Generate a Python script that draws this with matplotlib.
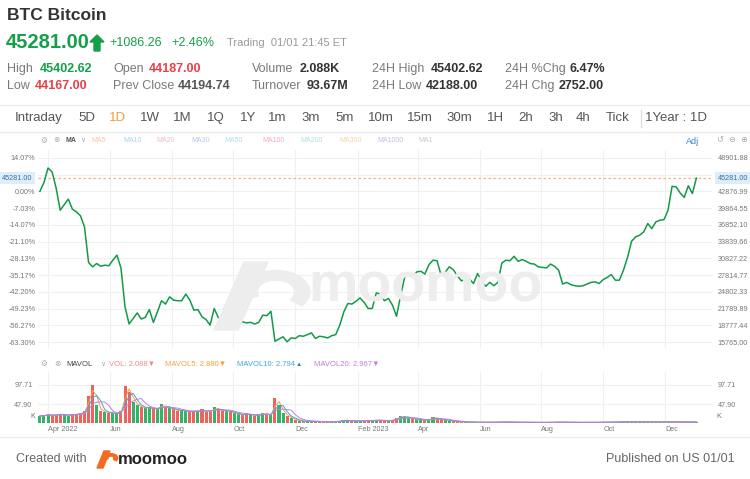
import pandas as pd
import matplotlib
matplotlib.use("Agg")
import matplotlib.pyplot as plt
import matplotlib.transforms as mtransforms
from matplotlib.patches import Polygon, Wedge

plt.rcParams['font.family'] = ['Liberation Sans', 'DejaVu Sans']

# ---- data (one value every 4 days) ----
close = [42900, 44500, 47100, 46400, 43500, 39500, 40500, 41500, 39700, 39200,
         38500, 36500, 30100, 29300, 29900, 29400, 29600, 29500, 30500, 31400,
         29100, 22100, 19000, 20000, 21000, 19900, 20200, 21600, 19300, 21200,
         23200, 22600, 23900, 23300, 23200, 23200, 24400, 23300, 21500, 21600,
         20300, 19800, 18800, 21800, 20200, 19400, 19400, 19200, 19400, 20300,
         19400, 19200, 19300, 19000, 19300, 20600, 20500, 21300, 15900, 16300,
         16700, 15800, 16500, 16400, 16900, 16800, 17100, 17400, 16400, 16800,
         16700, 16500, 16900, 17100, 18800, 21200, 22700, 22600, 23100, 23700,
         22900, 21800, 21800, 24600, 24400, 23200, 23600, 22400, 20400, 24100,
         27400, 28200, 27500, 28400, 28500, 28000, 29700, 30500, 30400, 27800,
         28300, 29300, 28800, 27700, 26800, 27000, 27100, 26300, 28100, 26800,
         25800, 26500, 25900, 26500, 30000, 30500, 30400, 31200, 30300, 30600,
         30300, 29900, 29800, 29300, 29200, 29100, 29800, 29400, 28700, 26200,
         26500, 26100, 25900, 25800, 25900, 26200, 26500, 26600, 26300, 27000,
         27400, 27900, 26900, 26900, 28700, 31000, 33900, 34700, 35000, 35600,
         37100, 36200, 37400, 37700, 37800, 39500, 43800, 43700, 42600, 41800,
         43900, 42500, 45281]

volume = [18, 20, 22, 19, 21, 24, 20, 19, 22, 23,
          25, 30, 70, 97, 45, 30, 28, 26, 25, 22,
          30, 95, 80, 55, 45, 40, 38, 40, 35, 36,
          48, 40, 38, 35, 30, 33, 30, 28, 32, 30,
          35, 28, 30, 40, 35, 30, 32, 28, 25, 22,
          20, 25, 20, 18, 22, 25, 22, 20, 65, 45,
          25, 18, 12, 8, 5, 4, 4, 5, 4, 3,
          3, 3, 3, 4, 6, 8, 6, 5, 5, 5,
          6, 7, 6, 8, 7, 5, 6, 8, 12, 18,
          16, 12, 10, 9, 8, 7, 9, 16, 10, 9,
          7, 6, 4, 3, 3, 2.5, 2, 2, 2, 2,
          2, 2, 2, 2, 3, 2.5, 2, 2, 2, 1.8,
          1.8, 1.6, 1.5, 1.5, 1.6, 1.8, 2.2, 1.8, 2.5, 2,
          1.8, 1.6, 1.6, 1.5, 1.6, 1.7, 1.8, 1.8, 2, 2,
          2.2, 2, 2.5, 3, 3.5, 3.2, 3, 2.8, 3, 2.6,
          2.8, 2.5, 2.8, 3, 3.2, 3, 2.8, 3, 2.6, 2.8,
          2.5, 2.6, 2.2]

dates = pd.date_range(end="2024-01-01", periods=len(close), freq="4D")
last_price = 45281.00

price_ticks = [15765.00, 18777.44, 21789.89, 24802.33, 27814.77, 30827.22,
               33839.66, 36852.10, 39864.55, 42876.99, 45889.43, 48901.88]
pct_labels = ["-63.30%", "-56.27%", "-49.23%", "-42.20%", "-35.17%", "-28.13%",
              "-21.10%", "-14.07%", "-7.03%", "0.00%", "", "14.07%"]
price_labels = ["15765.00", "18777.44", "21789.89", "24802.33", "27814.77", "30827.22",
                "33839.66", "36852.10", "39864.55", "42876.99", "", "48901.88"]
vol_ticks = [47.90, 97.71]
month_ticks = pd.to_datetime(["2022-04-01", "2022-06-01", "2022-08-01", "2022-10-01",
                              "2022-12-01", "2023-02-01", "2023-04-01", "2023-06-01",
                              "2023-08-01", "2023-10-01", "2023-12-01"])
month_labels = ["Apr 2022", "Jun", "Aug", "Oct", "Dec", "Feb 2023",
                "Apr", "Jun", "Aug", "Oct", "Dec"]

tabs = ["Intraday", "5D", "1D", "1W", "1M", "1Q", "1Y", "1m", "3m", "5m", "10m",
        "15m", "30m", "1H", "2h", "3h", "4h", "Tick"]
tab_x = [15, 78, 109, 140, 173, 207, 240, 268, 301, 335, 368, 407, 446, 487, 518, 548, 576, 606]

ma_names = ["MA5", "MA10", "MA20", "MA30", "MA50", "MA100", "MA200", "MA300", "MA1000", "MA1"]
ma_x = [91, 123, 156, 191, 224, 262, 300, 339, 377, 418]
ma_cols = ["#f6c3a6", "#a9d3ee", "#f4b9d0", "#b9c3ea", "#a9deec", "#f4acc2",
           "#a9e3dc", "#f6d4a4", "#cbbbe6", "#c9c9c9"]

GREEN = "#14a04a"
RED = "#e8404a"
DARK = "#333333"
GRAY = "#7a7a7a"
TICK = 5.2

W, H = 750, 479
fig = plt.figure(figsize=(7.5, 4.79), dpi=100)


def fx(x):
    return x / W


def fy(y):
    return 1 - y / H


def label(x, y, s, **kw):
    kw.setdefault("va", "center")
    kw.setdefault("ha", "left")
    fig.text(fx(x), fy(y), s, **kw)


# ---- header ----
label(7, 16, "BTC Bitcoin", fontsize=12.5, weight="bold", color=DARK)
label(6, 42, "45281.00", fontsize=14.5, color=GREEN, weight="bold")
fig.patches.append(Polygon([(fx(97), fy(35)), (fx(104), fy(42)), (fx(100), fy(42)),
                            (fx(100), fy(51)), (fx(94), fy(51)), (fx(94), fy(42)),
                            (fx(90), fy(42))], closed=True, color=GREEN,
                           transform=fig.transFigure))
label(109, 43, "+1086.26", fontsize=9, color=GREEN)
label(171, 43, "+2.46%", fontsize=9, color=GREEN)
label(227, 43, "Trading  01/01 21:45 ET", fontsize=8, color="#9a9a9a")

rows = [
    (69, [("High", 7, "45402.62", 40, GREEN), ("Open", 113, "44187.00", 149, RED),
          ("Volume", 252, "2.088K", 300, DARK), ("24H High", 372, "45402.62", 431, DARK),
          ("24H %Chg", 505, "6.47%", 570, DARK)]),
    (86, [("Low", 7, "44167.00", 35, RED), ("Prev Close", 113, "44194.74", 178, "#555555"),
          ("Turnover", 252, "93.67M", 307, DARK), ("24H Low", 372, "42188.00", 426, DARK),
          ("24H Chg", 505, "2752.00", 559, DARK)]),
]
for y, items in rows:
    for name, nx, val, vx, col in items:
        label(nx, y, name, fontsize=9, color=GRAY)
        label(vx, y, val, fontsize=9, color=col, weight="bold")

# separators
for y in (105, 132, 437):
    fig.add_artist(plt.Line2D([0, 1], [fy(y), fy(y)], color="#ececec", lw=0.9))
fig.add_artist(plt.Line2D([fx(641), fx(641)], [fy(110), fy(127)], color="#dddddd", lw=0.9))

# tabs
for name, x in zip(tabs, tab_x):
    label(x, 118, name, fontsize=9.5, color="#f39a3d" if name == "1D" else "#555555")
label(645, 118, "1Year : 1D", fontsize=9.5, color="#555555")

# MA row
label(40, 141, "⚙", fontsize=5.5, color="#aaaaaa")
label(53, 141, "⊗", fontsize=5.5, color="#aaaaaa")
label(66, 141, "MA", fontsize=5, color="#555555", weight="bold")
label(80, 141, "∨", fontsize=5, color="#aaaaaa")
for name, x, c in zip(ma_names, ma_x, ma_cols):
    label(x, 141, name, fontsize=5, color=c)
label(686, 141, "Adj", fontsize=6.5, color="#3a86d6")
label(716, 141, "↺", fontsize=6, color="#aaaaaa")
label(728, 141, "⊖", fontsize=6, color="#aaaaaa")
label(740, 141, "⊕", fontsize=6, color="#aaaaaa")

# ---- watermark ----
wm = "#ededed"
fig.patches.append(Polygon([(fx(214), fy(330)), (fx(238), fy(330)), (fx(268), fy(262)),
                            (fx(244), fy(262))], closed=True, color=wm,
                           transform=fig.transFigure, zorder=0.5))
fig.patches.append(Wedge((fx(276), fy(292)), 0.045, -40, 200, width=0.02, color=wm,
                         transform=fig.transFigure, zorder=0.5))
label(308, 288, "moomoo", fontsize=40, color=wm, weight="bold", zorder=0.5)

# ---- price panel ----
left, right = 38, 712
xlim = (pd.Timestamp("2022-04-01") - pd.Timedelta(days=9.9),
        pd.Timestamp("2022-04-01") + pd.Timedelta(days=655.4))

ax = fig.add_axes([fx(left), fy(348), fx(right - left), (348 - 150) / H])
ax.patch.set_alpha(0)
ax.plot(dates, close, color="#139a48", lw=1.1, zorder=3)
ax.axhline(last_price, color="#f6b27c", lw=0.9, ls=(0, (2, 2)), zorder=2)
ax.set_xlim(*xlim)
ax.set_ylim(14684.5, 50342.6)
ax.set_yticks(price_ticks, pct_labels)
ax.set_xticks(month_ticks, [""] * len(month_ticks))
ax.grid(color="#f0f0f0", lw=0.8)
ax.tick_params(length=0, labelsize=TICK, labelcolor="#777777", pad=2)
for s in ax.spines.values():
    s.set_visible(False)
ax2 = ax.twinx()
ax2.set_ylim(ax.get_ylim())
ax2.set_yticks(price_ticks, price_labels)
ax2.tick_params(length=0, labelsize=TICK, labelcolor="#777777", pad=4)
for s in ax2.spines.values():
    s.set_visible(False)

box = dict(boxstyle="square,pad=0.3", fc="#ddeefa", ec="none")
trans = mtransforms.blended_transform_factory(ax.transAxes, ax.transData)
ax.text(-0.008, last_price, "45281.00", transform=trans, ha="right", va="center",
        fontsize=TICK, color="#3d6f9c", bbox=box, clip_on=False, zorder=5)
ax.text(1.008, last_price, "45281.00", transform=trans, ha="left", va="center",
        fontsize=TICK, color="#3d6f9c", bbox=box, clip_on=False, zorder=5)

# ---- volume panel ----
vol_s = pd.Series(volume)
ma5 = vol_s.rolling(2, min_periods=1).mean()
ma10 = vol_s.rolling(3, min_periods=1).mean()
ma20 = vol_s.rolling(5, min_periods=1).mean()
bar_cols = ["#32b36a" if i == 0 or close[i] >= close[i - 1] else "#f2625c"
            for i in range(len(close))]

axv = fig.add_axes([fx(left), fy(423), fx(right - left), (423 - 372) / H])
axv.patch.set_alpha(0)
axv.bar(dates, volume, width=3, color=bar_cols, zorder=2)
axv.plot(dates, ma5, color="#f5a142", lw=0.7, zorder=3)
axv.plot(dates, ma10, color="#3ea7e0", lw=0.7, zorder=3)
axv.plot(dates, ma20, color="#c47ddb", lw=0.7, zorder=3)
axv.set_xlim(*xlim)
axv.set_ylim(0, 131.1)
axv.set_yticks(vol_ticks, ["47.90", "97.71"])
axv.set_xticks(month_ticks, month_labels, ha="left")
axv.grid(color="#f0f0f0", lw=0.8)
axv.tick_params(length=0, labelsize=TICK, labelcolor="#777777", pad=2,
                labelleft=True, labelright=True)
axv.tick_params(axis="y", pad=4)
for s in axv.spines.values():
    s.set_visible(False)
label(35, 417, "K", fontsize=TICK, color="#777777", ha="right")
label(716, 417, "K", fontsize=TICK, color="#777777")

# volume header
label(40, 364, "⚙", fontsize=5.5, color="#aaaaaa")
label(54, 364, "⊗", fontsize=5.5, color="#aaaaaa")
label(66, 364, "MAVOL", fontsize=5.5, color="#444444")
label(100, 364, "∨", fontsize=5, color="#aaaaaa")
label(109, 364, "VOL: 2.088▼", fontsize=5.5, color="#f08a8a")
label(165, 364, "MAVOL5: 2.880▼", fontsize=5.5, color="#f5a142")
label(237, 364, "MAVOL10: 2.794", fontsize=5.5, color="#3ea7e0")
label(296, 364, "▲", fontsize=4.5, color=GREEN)
label(314, 364, "MAVOL20: 2.967▼", fontsize=5.5, color="#c47ddb")

# ---- footer ----
label(16, 459, "Created with", fontsize=9, color="#666666")
org = "#f26b22"
fig.patches.append(Polygon([(fx(97), fy(468)), (fx(103), fy(468)), (fx(110), fy(451)),
                            (fx(104), fy(451))], closed=True, color=org,
                           transform=fig.transFigure))
fig.patches.append(Wedge((fx(111), fy(458)), 0.009, -40, 200, width=0.005, color=org,
                         transform=fig.transFigure))
label(118, 459, "moomoo", fontsize=12, color="#222222", weight="bold")
label(735, 459, "Published on US 01/01", fontsize=9, color="#666666", ha="right")

fig.savefig("out.png", dpi=100)
